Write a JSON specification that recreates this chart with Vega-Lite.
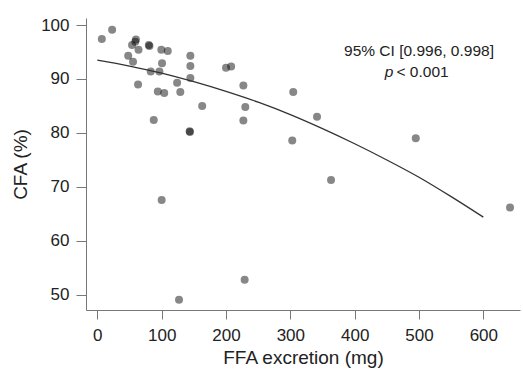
{
  "$schema": "https://vega.github.io/schema/vega-lite/v6.json",
  "width": 434,
  "height": 292,
  "autosize": "none",
  "padding": {"left": 86, "top": 18, "right": 3, "bottom": 62},
  "config": {
    "view": {"stroke": null},
    "font": "Liberation Sans",
    "axis": {
      "grid": false,
      "domainColor": "#777777",
      "tickColor": "#777777",
      "labelColor": "#222222",
      "titleColor": "#222222",
      "labelFont": "Liberation Sans",
      "titleFont": "Liberation Sans",
      "labelFontSize": 17,
      "titleFontSize": 19,
      "titleFontWeight": "normal",
      "domainWidth": 1,
      "tickWidth": 1
    }
  },
  "datasets": {
    "pts": [
      {"ffa": 7, "cfa": 97.4}, {"ffa": 23, "cfa": 99.1}, {"ffa": 60, "cfa": 97.3},
      {"ffa": 59, "cfa": 96.9}, {"ffa": 54, "cfa": 96.3}, {"ffa": 64, "cfa": 95.4},
      {"ffa": 80, "cfa": 96.3}, {"ffa": 81, "cfa": 96.1}, {"ffa": 48, "cfa": 94.3},
      {"ffa": 55.5, "cfa": 93.2}, {"ffa": 99.5, "cfa": 95.4}, {"ffa": 109.5, "cfa": 95.2},
      {"ffa": 144.6, "cfa": 94.3}, {"ffa": 100.6, "cfa": 92.9}, {"ffa": 144.6, "cfa": 92.4},
      {"ffa": 200, "cfa": 92.1}, {"ffa": 208, "cfa": 92.3}, {"ffa": 83, "cfa": 91.4},
      {"ffa": 96.5, "cfa": 91.4}, {"ffa": 144.6, "cfa": 90.2}, {"ffa": 63.3, "cfa": 89.0},
      {"ffa": 124, "cfa": 89.3}, {"ffa": 94, "cfa": 87.7}, {"ffa": 104, "cfa": 87.4},
      {"ffa": 129, "cfa": 87.6}, {"ffa": 163, "cfa": 85.0}, {"ffa": 87.7, "cfa": 82.4},
      {"ffa": 143.5, "cfa": 80.3}, {"ffa": 144, "cfa": 80.2}, {"ffa": 227, "cfa": 88.8},
      {"ffa": 230, "cfa": 84.8}, {"ffa": 227, "cfa": 82.3}, {"ffa": 304.5, "cfa": 87.6},
      {"ffa": 303, "cfa": 78.6}, {"ffa": 341.5, "cfa": 83.0}, {"ffa": 363.3, "cfa": 71.3},
      {"ffa": 495, "cfa": 79.0}, {"ffa": 641.5, "cfa": 66.2}, {"ffa": 100, "cfa": 67.6},
      {"ffa": 229, "cfa": 52.8}, {"ffa": 127, "cfa": 49.1}
    ],
    "fit": [
      {"ffa": 0, "cfa": 93.5}, {"ffa": 50, "cfa": 92.4}, {"ffa": 100, "cfa": 91.1},
      {"ffa": 150, "cfa": 89.5}, {"ffa": 200, "cfa": 87.7}, {"ffa": 250, "cfa": 85.7},
      {"ffa": 300, "cfa": 83.4}, {"ffa": 350, "cfa": 80.8}, {"ffa": 400, "cfa": 78.0},
      {"ffa": 450, "cfa": 75.0}, {"ffa": 500, "cfa": 71.8}, {"ffa": 550, "cfa": 68.2},
      {"ffa": 600, "cfa": 64.4}
    ],
    "notes": [
      {"ffa": 500, "cfa": 94.3, "label": "95% CI [0.996, 0.998]", "style": "normal", "align": "center"},
      {"ffa": 460, "cfa": 90.3, "label": "p", "style": "italic", "align": "right"},
      {"ffa": 465, "cfa": 90.3, "label": "< 0.001", "style": "normal", "align": "left"}
    ]
  },
  "layer": [
    {
      "data": {"name": "pts"},
      "mark": {"type": "circle", "color": "#000000", "opacity": 0.47, "size": 64},
      "encoding": {
        "x": {"field": "ffa", "type": "quantitative", "scale": {"domain": [-17.6, 657], "nice": false, "zero": false},
          "axis": {"title": "FFA excretion (mg)", "values": [0, 100, 200, 300, 400, 500, 600], "tickSize": 9, "labelPadding": 8, "titlePadding": 5, "labelFlush": false}},
        "y": {"field": "cfa", "type": "quantitative", "scale": {"domain": [47.2, 101.3], "nice": false, "zero": false},
          "axis": {"title": "CFA (%)", "values": [50, 60, 70, 80, 90, 100], "tickSize": 10, "labelPadding": 7, "titlePadding": 10, "labelFlush": false}}
      }
    },
    {
      "data": {"name": "fit"},
      "mark": {"type": "line", "color": "#333333", "strokeWidth": 1.3, "interpolate": "monotone"},
      "encoding": {
        "x": {"field": "ffa", "type": "quantitative"},
        "y": {"field": "cfa", "type": "quantitative"}
      }
    },
    {
      "data": {"name": "notes"},
      "transform": [{"filter": "datum.style == 'normal' && datum.align == 'center'"}],
      "mark": {"type": "text", "fontSize": 15.5, "color": "#222222", "align": "center", "baseline": "alphabetic", "font": "Liberation Sans"},
      "encoding": {
        "x": {"field": "ffa", "type": "quantitative"},
        "y": {"field": "cfa", "type": "quantitative"},
        "text": {"field": "label"}
      }
    },
    {
      "data": {"name": "notes"},
      "transform": [{"filter": "datum.style == 'italic'"}],
      "mark": {"type": "text", "fontSize": 15.5, "color": "#222222", "align": "right", "baseline": "alphabetic", "fontStyle": "italic", "font": "Liberation Sans"},
      "encoding": {
        "x": {"field": "ffa", "type": "quantitative"},
        "y": {"field": "cfa", "type": "quantitative"},
        "text": {"field": "label"}
      }
    },
    {
      "data": {"name": "notes"},
      "transform": [{"filter": "datum.align == 'left'"}],
      "mark": {"type": "text", "fontSize": 15.5, "color": "#222222", "align": "left", "baseline": "alphabetic", "font": "Liberation Sans"},
      "encoding": {
        "x": {"field": "ffa", "type": "quantitative"},
        "y": {"field": "cfa", "type": "quantitative"},
        "text": {"field": "label"}
      }
    }
  ]
}
